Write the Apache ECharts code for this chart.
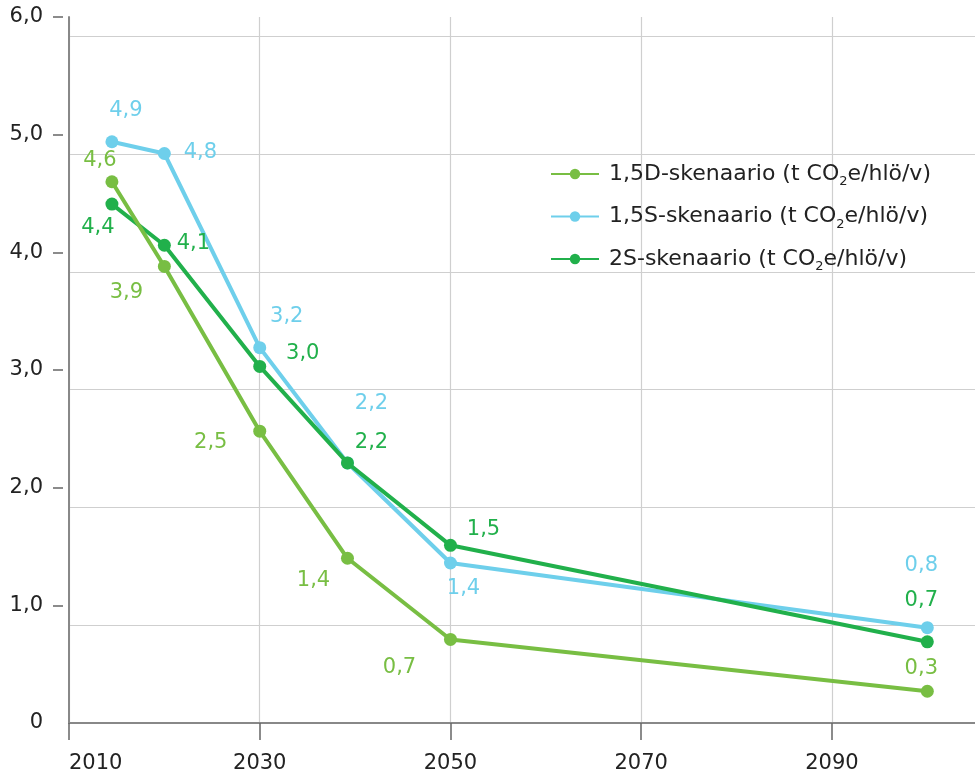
<!DOCTYPE html>
<html>
<head>
<meta charset="utf-8">
<script src="https://cdn.jsdelivr.net/npm/echarts@6/dist/echarts.min.js"></script>
<style>
  html, body { margin: 0; padding: 0; background: #fff; }
  #chart { width: 975px; height: 778px; }
</style>
</head>
<body>
<div id="chart"></div>
<script>
// Päästökehitys skenaarioittain (t CO2e / henkilö / vuosi)
const years = [2014.5, 2020, 2030, 2039.2, 2050, 2100];
const scenD15 = [4.60, 3.88, 2.48, 1.40, 0.71, 0.27];
const scenS15 = [4.94, 4.84, 3.19, 2.21, 1.36, 0.81];
const scenS2  = [4.41, 4.06, 3.03, 2.21, 1.51, 0.69];

const names = [
  '1,5D-skenaario (t CO₂e/hlö/v)',
  '1,5S-skenaario (t CO₂e/hlö/v)',
  '2S-skenaario (t CO₂e/hlö/v)'
];
const colors = ['#78be43', '#6ecfeb', '#21b04b'];

const xTicks = [2010, 2030, 2050, 2070, 2090];
const yTicks = [1, 2, 3, 4, 5, 6];
const gridLevels = [0.833, 1.833, 2.833, 3.833, 4.833, 5.833];

// label placement around each point (px from point centre)
const offD15 = [[-12, -21], [-38, 26], [-49, 11], [-34, 22], [-51, 28], [-6, -23]];
const offS15 = [[14, -31], [36, -1], [27, -31], [24, -59], [13, 26], [-6, -62]];
const offS2  = [[-14, 23], [29, -2], [43, -13], [24, -20], [33, -16], [-6, -41]];

const FONT = 'DejaVu Sans';
const FS = 21;
const fmt = v => v.toFixed(1).replace('.', ',');

function buildData(vals, offs) {
  return vals.map((v, i) => ({
    value: [years[i], v],
    label: { offset: offs[i] }
  }));
}

function lineSeries(name, color, vals, offs, z) {
  return {
    name: name,
    type: 'line',
    z: z,
    data: buildData(vals, offs),
    symbol: 'circle',
    symbolSize: 13,
    lineStyle: { color: color, width: 4 },
    itemStyle: { color: color },
    label: {
      show: true,
      position: 'inside',
      align: 'center',
      verticalAlign: 'middle',
      color: color,
      fontFamily: FONT,
      fontSize: FS,
      formatter: p => fmt(p.value[1])
    },
    emphasis: { disabled: true }
  };
}

const chart = echarts.init(document.getElementById('chart'), null, { renderer: 'canvas' });

chart.setOption({
  animation: false,
  backgroundColor: '#ffffff',
  textStyle: { fontFamily: FONT },
  grid: { left: 69, right: 0, top: 17, bottom: 55, containLabel: false },
  legend: {
    orient: 'vertical',
    left: 550,
    top: 163,
    padding: 0,
    itemWidth: 48,
    itemHeight: 13,
    itemGap: 17,
    data: names,
    selectedMode: false,
    textStyle: {
      fontFamily: FONT,
      fontSize: 22,
      color: '#222',
      padding: [0, 0, 0, 5],
      rich: {
        sub: { fontFamily: FONT, fontSize: 13, color: '#222', padding: [16, 0, 0, 0] }
      }
    },
    formatter: n => n.replace('₂', '{sub|2}')
  },
  xAxis: {
    type: 'value',
    min: 2010,
    max: 2105,
    axisLine: { show: true, onZero: false, lineStyle: { color: '#888', width: 2 } },
    axisTick: { show: true, length: 17, customValues: xTicks, lineStyle: { color: '#666', width: 1.5 } },
    axisLabel: {
      customValues: xTicks,
      margin: 30,
      alignMinLabel: 'left',
      color: '#222',
      fontFamily: FONT,
      fontSize: FS,
      formatter: v => String(v)
    },
    splitLine: { show: true, lineStyle: { color: '#cfcfcf', width: 1.2 } }
  },
  yAxis: [
    {
      type: 'value',
      position: 'left',
      min: 0,
      max: 6,
      interval: 1,
      axisLine: { show: true, lineStyle: { color: '#888', width: 2 } },
      axisTick: { show: false },
      axisLabel: {
        margin: 26,
        color: '#222',
        fontFamily: FONT,
        fontSize: FS,
        formatter: v => (v === 0 ? '0' : fmt(v))
      },
      splitLine: { show: false }
    },
    {
      type: 'value',
      position: 'left',
      min: 0,
      max: 6,
      interval: 1,
      offset: 6,
      axisLine: { show: false },
      axisTick: { show: true, length: 10, customValues: yTicks, lineStyle: { color: '#666', width: 1.5 } },
      axisLabel: { show: false },
      splitLine: { show: false }
    },
    {
      type: 'value',
      position: 'left',
      min: 0,
      max: 6,
      interval: 1,
      axisLine: { show: false },
      axisTick: { show: false, customValues: gridLevels },
      axisLabel: { show: false },
      splitLine: { show: true, lineStyle: { color: '#cfcfcf', width: 1.2 } }
    }
  ],
  series: [
    lineSeries(names[1], colors[1], scenS15, offS15, 2),
    lineSeries(names[2], colors[2], scenS2, offS2, 3),
    lineSeries(names[0], colors[0], scenD15, offD15, 4)
  ]
});
</script>
</body>
</html>
